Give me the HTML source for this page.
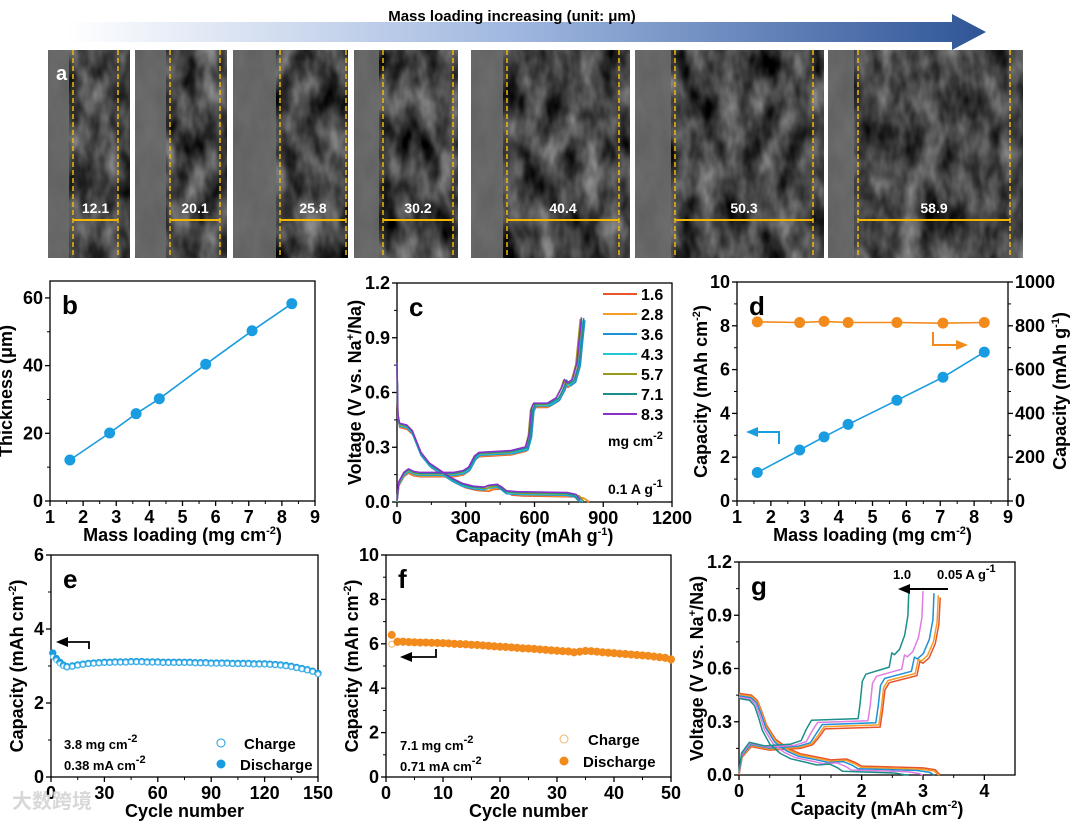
<!DOCTYPE html>
<html><head><meta charset="utf-8"><style>
html,body{margin:0;padding:0;background:#fff;}
svg{display:block;font-family:"Liberation Sans",Arial,sans-serif;font-weight:bold;}
</style></head><body>
<svg id="fig" width="1080" height="825" viewBox="0 0 1080 825" xmlns="http://www.w3.org/2000/svg">
<defs>
<linearGradient id="arrowGrad" x1="0" x2="1" y1="0" y2="0"><stop offset="0" stop-color="#ffffff"/><stop offset="0.5" stop-color="#9db5de"/><stop offset="1" stop-color="#2f5597"/></linearGradient>
<filter id="noise" x="0" y="0" width="100%" height="100%" color-interpolation-filters="sRGB">
<feTurbulence type="fractalNoise" baseFrequency="0.05 0.025" numOctaves="3" seed="7"/>
<feColorMatrix type="matrix" values="0.8 0 0 0 -0.13  0.8 0 0 0 -0.13  0.8 0 0 0 -0.13  0 0 0 0 1"/>
</filter>
</defs>
<g id="panelA">
<polygon points="66,22 952,22 952,14 986,32 952,50 952,42 66,42" fill="url(#arrowGrad)"/>
<text x="512" y="21" font-size="15" text-anchor="middle" fill="#000">Mass loading increasing (unit: μm)</text>
</g>
<g id="charts"></g>
</svg>
<script>
var NS="http://www.w3.org/2000/svg";
var svg=document.getElementById('fig');
var charts=document.getElementById('charts');
function el(tag,attrs,parent,txt){var e=document.createElementNS(NS,tag);for(var k in attrs)e.setAttribute(k,attrs[k]);if(txt!==undefined)e.textContent=txt;(parent||charts).appendChild(e);return e;}

// ---------- Panel a data ----------
var semLabels=["12.1","20.1","25.8","30.2","40.4","50.3","58.9"];
var semBoxes=[[48,130],[135,227],[233,348],[354,458],[471,630],[635,824],[828,1023]];
var semDash=[[73,118],[170,220],[280,346],[383,453],[507,619],[675,813],[858,1010]];
var pa=document.getElementById('panelA');
semBoxes.forEach(function(b,i){
  var r=el('rect',{x:b[0],y:50,width:b[1]-b[0],height:208,fill:'#444',filter:'url(#noise)'},pa);
  
  
  var cc=el('rect',{x:b[0],y:50,width:semDash[i][0]-b[0]-4,height:208,fill:'#6a6a6a',opacity:0.9},pa);
  
  
  var d=semDash[i];
  [d[0],d[1]].forEach(function(x){var l=el('line',{x1:x,y1:50,x2:x,y2:258,stroke:'#f2b705','stroke-width':1.5,'stroke-dasharray':'5,3'},pa);});
  var m=el('line',{x1:d[0],y1:220,x2:d[1],y2:220,stroke:'#f2b705','stroke-width':2},pa);
  
  
  var t=el('text',{x:(d[0]+d[1])/2,y:213,'font-size':14,'text-anchor':'middle',fill:'#fff'},pa,semLabels[i]);
  
  
});
var la=el('text',{x:56,y:80,'font-size':20,fill:'#fff'},pa,'a');



// ---------- chart helpers ----------
function scale(d0,d1,r0,r1){return function(v){return r0+(v-d0)/(d1-d0)*(r1-r0);};}
function axes(o){
  var g=el('g',{});
  
  
  var box=el('rect',{x:o.x0,y:o.y1,width:o.x1-o.x0,height:o.y0-o.y1,fill:'none',stroke:'#000','stroke-width':1.3},g);
  
  
  var sx=scale(o.xd[0],o.xd[1],o.x0,o.x1), sy=scale(o.yd[0],o.yd[1],o.y0,o.y1);
  o.xt.forEach(function(v,i){
    var x=sx(v);el('line',{x1:x,y1:o.y0,x2:x,y2:o.y0+5,stroke:'#000','stroke-width':1.3},g);
    var t=el('text',{x:x,y:o.y0+22,'font-size':18,'text-anchor':'middle'},g,o.xtl[i]);
    
    
    if(i<o.xt.length-1){var xm=sx((v+o.xt[i+1])/2);el('line',{x1:xm,y1:o.y0,x2:xm,y2:o.y0+3,stroke:'#000'},g);}
  });
  o.yt.forEach(function(v,i){
    var y=sy(v);el('line',{x1:o.x0,y1:y,x2:o.x0-5,y2:y,stroke:'#000','stroke-width':1.3},g);
    var t=el('text',{x:o.x0-7,y:y+6,'font-size':18,'text-anchor':'end'},g,o.ytl[i]);
    
    
    if(i<o.yt.length-1){var ym=sy((v+o.yt[i+1])/2);el('line',{x1:o.x0,y1:ym,x2:o.x0-3,y2:ym,stroke:'#000'},g);}
  });
  var xt=el('text',{x:(o.x0+o.x1)/2,y:o.y0+40,'font-size':18,'text-anchor':'middle'},g);
  xt.innerHTML=o.xtitle;
  
  
  var yx=o.x0-o.ytoff, yy=(o.y0+o.y1)/2;
  var yt=el('text',{x:yx,y:yy,'font-size':18,'text-anchor':'middle',transform:'rotate(-90 '+yx+' '+yy+')'},g);
  yt.innerHTML=o.ytitle;
  
  
  var pl=el('text',{x:o.x0+12,y:o.y1+33,'font-size':26},g,o.label);
  
  
  return {g:g,sx:sx,sy:sy};
}
function poly(ax,pts,color,w,name){
  var d=pts.map(function(p,i){return (i?'L':'M')+ax.sx(p[0]).toFixed(1)+','+ax.sy(p[1]).toFixed(1);}).join('');
  var p=el('path',{d:d,fill:'none',stroke:color,'stroke-width':w||1.6,'stroke-linejoin':'round'},ax.g);
  
  
  return p;
}
function dot(ax,x,y,color,r,hollow,name){
  var c=el('circle',{cx:ax.sx(x),cy:ax.sy(y),r:r,fill:hollow?'#fff':color,stroke:color,'stroke-width':1},ax.g);
  
  
  return c;
}
function txt(g,x,y,s,html,name,anchor){var t=el('text',{x:x,y:y,'font-size':s,'text-anchor':anchor||'start'},g);t.innerHTML=html;return t;}
var SUP=function(s){return '<tspan dy="-7" font-size="11">'+s+'</tspan><tspan dy="7">';};

// ---------- Panel b ----------
var bLoading=[1.6,2.8,3.6,4.3,5.7,7.1,8.3];
var bThickness=[12.1,20.1,25.8,30.2,40.4,50.3,58.3];
var bXTicks=[1,2,3,4,5,6,7,8,9];
var bYTicks=[0,20,40,60];
var axB=axes({name:'panel-b-chart',x0:50,x1:315,y0:501,y1:281,xd:[1,9],yd:[0,65],xt:bXTicks,xtl:bXTicks.map(String),yt:bYTicks,ytl:bYTicks.map(String),
  xtitle:'Mass loading (mg cm'+SUP('-2')+')</tspan>',ytitle:'Thickness (μm)',ytoff:38,label:'b'});
poly(axB,bLoading.map(function(v,i){return [v,bThickness[i]];}),'#1a9de0',1.6,'thickness-line');
bLoading.forEach(function(v,i){dot(axB,v,bThickness[i],'#1a9de0',5,false,'thickness-point');});

// ---------- Panel c ----------
var cLoadings=["1.6","2.8","3.6","4.3","5.7","7.1","8.3"];
var cColors=["#e8532b","#f39c26","#1e90d6","#22c7d6","#9a9a1e","#1b8f8a","#8a2fc9"];
var cChargeEnd=[808,815,820,812,800,815,805];
var cDischargeEnd=[840,835,800,810,815,790,800];
var cChargeShape=[[0,0],[8,0.1],[30,0.15],[50,0.17],[75,0.155],[100,0.15],[250,0.15],[290,0.16],[315,0.18],[340,0.24],[360,0.26],[500,0.27],[565,0.29],[580,0.36],[590,0.5],[600,0.53],[660,0.53],[700,0.56],[725,0.62],[735,0.66],[748,0.64],[770,0.66],[790,0.75],[800,0.88],[810,1.0]];
var cDischargeShape=[[0,0.75],[4,0.47],[12,0.42],[45,0.41],[70,0.38],[90,0.32],[110,0.26],[150,0.2],[200,0.16],[250,0.12],[300,0.09],[350,0.075],[400,0.07],[420,0.08],[460,0.085],[480,0.07],[500,0.05],[550,0.045],[780,0.04],[820,0.03],[840,0]];
var cXTicks=[0,300,600,900,1200];
var cYTicks=[0,0.3,0.6,0.9,1.2];
var axC=axes({name:'panel-c-chart',x0:397,x1:672,y0:502,y1:283,xd:[0,1200],yd:[0,1.2],xt:cXTicks,xtl:cXTicks.map(String),yt:cYTicks,ytl:cYTicks.map(function(v){return v.toFixed(1);}),
  xtitle:'Capacity (mAh g'+SUP('-1')+')</tspan>',ytitle:'Voltage (V vs. Na'+SUP('+')+'/Na)</tspan>',ytoff:36,label:'c'});
cLoadings.forEach(function(l,i){
  var jit=(i-3)*0.004;
  poly(axC,cChargeShape.map(function(p){return [p[0]*cChargeEnd[i]/810,Math.max(0,p[1]+jit)];}),cColors[i],1.5,'charge-curve-'+l);
  poly(axC,cDischargeShape.map(function(p){return [p[0]*cDischargeEnd[i]/840,Math.max(0,p[1]+jit)];}),cColors[i],1.5,'discharge-curve-'+l);
  var ly=294+i*20;
  var ll=el('line',{x1:603,y1:ly,x2:637,y2:ly,stroke:cColors[i],'stroke-width':2},axC.g);
  
  
  txt(axC.g,641,ly+6,16,l,'legend-entry');
});
txt(axC.g,608,446,14,'mg cm'+SUP('-2')+'</tspan>','legend-unit');
txt(axC.g,608,494,14,'0.1 A g'+SUP('-1')+'</tspan>','current-density-note');

// ---------- Panel d ----------
var dLoading=[1.6,2.85,3.57,4.28,5.72,7.08,8.3];
var dArealCap=[1.3,2.33,2.93,3.5,4.6,5.65,6.8];
var dSpecCap=[818,815,820,815,815,812,815];
var dXTicks=[1,2,3,4,5,6,7,8,9];
var dYTicks=[0,2,4,6,8,10];
var dY2Ticks=[0,200,400,600,800,1000];
var axD=axes({name:'panel-d-chart',x0:737,x1:1008,y0:501,y1:282,xd:[1,9],yd:[0,10],xt:dXTicks,xtl:dXTicks.map(String),yt:dYTicks,ytl:dYTicks.map(String),
  xtitle:'Mass loading (mg cm'+SUP('-2')+')</tspan>',ytitle:'Capacity (mAh cm'+SUP('-2')+')</tspan>',ytoff:30,label:'d'});
var sy2=scale(0,1000,501,282);
dY2Ticks.forEach(function(v,i){var y=sy2(v);el('line',{x1:1008,y1:y,x2:1013,y2:y,stroke:'#000','stroke-width':1.3},axD.g);
  if(i<dY2Ticks.length-1){var ym=sy2(v+100);el('line',{x1:1008,y1:ym,x2:1011,y2:ym,stroke:'#000'},axD.g);}
  txt(axD.g,1015,y+6,18,String(v),'y2-tick-label');});
var y2t=txt(axD.g,0,0,18,'Capacity (mAh g'+SUP('-1')+')</tspan>','y2-axis-title','middle');
y2t.setAttribute('transform','translate(1066,391) rotate(-90)');
poly(axD,dLoading.map(function(v,i){return [v,dArealCap[i]];}),'#1a9de0',1.6,'areal-capacity-line');
dLoading.forEach(function(v,i){dot(axD,v,dArealCap[i],'#1a9de0',5,false,'areal-capacity-point');});
var specPts=dLoading.map(function(v,i){return [v,dSpecCap[i]/100];});
poly(axD,specPts,'#f28a1c',1.6,'specific-capacity-line');
specPts.forEach(function(p){dot(axD,p[0],p[1],'#f28a1c',5,false,'specific-capacity-point');});
el('path',{d:'M779,444 L779,432 L752,432',fill:'none',stroke:'#1a9de0','stroke-width':2},axD.g);
el('polygon',{points:'746,432 758,427 758,437',fill:'#1a9de0'},axD.g);
el('path',{d:'M933,332 L933,345 L962,345',fill:'none',stroke:'#f28a1c','stroke-width':2},axD.g);
el('polygon',{points:'968,345 956,340 956,350',fill:'#f28a1c'},axD.g);

// ---------- Panel e ----------
var eCycles=[1,3,5,7,9,12,15,18,21,24,27,30,33,36,39,42,45,48,51,54,57,60,63,66,69,72,75,78,81,84,87,90,93,96,99,102,105,108,111,114,117,120,123,126,129,132,135,138,141,144,147,150];
var eDischarge=[3.35,3.2,3.1,3.02,2.98,3.0,3.03,3.05,3.07,3.08,3.09,3.1,3.1,3.11,3.11,3.11,3.12,3.12,3.12,3.11,3.11,3.11,3.1,3.1,3.1,3.1,3.1,3.1,3.09,3.09,3.09,3.08,3.08,3.08,3.08,3.07,3.07,3.07,3.07,3.06,3.06,3.06,3.05,3.04,3.03,3.01,2.99,2.96,2.93,2.9,2.86,2.8];
var eCharge=[3.25,3.15,3.06,3.0,2.97,2.99,3.02,3.04,3.06,3.07,3.08,3.09,3.09,3.1,3.1,3.1,3.11,3.11,3.11,3.1,3.1,3.1,3.09,3.09,3.09,3.09,3.09,3.09,3.08,3.08,3.08,3.07,3.07,3.07,3.07,3.06,3.06,3.06,3.06,3.05,3.05,3.05,3.04,3.03,3.02,3.0,2.98,2.95,2.92,2.89,2.85,2.78];
var eXTicks=[0,30,60,90,120,150];
var eYTicks=[0,2,4,6];
var axE=axes({name:'panel-e-chart',x0:51,x1:318,y0:777,y1:555,xd:[0,150],yd:[0,6],xt:eXTicks,xtl:eXTicks.map(String),yt:eYTicks,ytl:eYTicks.map(String),
  xtitle:'Cycle number',ytitle:'Capacity (mAh cm'+SUP('-2')+')</tspan>',ytoff:28,label:'e'});
eCycles.forEach(function(c,i){dot(axE,c,eDischarge[i],'#1a9de0',3.2,false,'discharge-point');dot(axE,c,eCharge[i],'#6cc4f0',2.3,true,'charge-point');});
el('path',{d:'M89,649 L89,642 L64,642',fill:'none',stroke:'#000','stroke-width':1.8},axE.g);
el('polygon',{points:'56,642 68,637 68,647',fill:'#000'},axE.g);
txt(axE.g,64,749,13,'3.8 mg cm'+SUP('-2')+'</tspan>','loading-note');
txt(axE.g,64,770,13,'0.38 mA cm'+SUP('-2')+'</tspan>','current-note');
el('circle',{cx:221,cy:743,r:4,fill:'#fff',stroke:'#1a9de0'},axE.g);
el('circle',{cx:221,cy:764,r:4,fill:'#1a9de0',stroke:'#1a9de0'},axE.g);
txt(axE.g,244,749,15,'Charge','legend-charge');
txt(axE.g,240,770,15,'Discharge','legend-discharge');

// ---------- Panel f ----------
var fCycles=[];for(var k=1;k<=50;k++)fCycles.push(k);
var fDischarge=[6.4,6.1,6.1,6.08,6.07,6.06,6.06,6.05,6.04,6.03,6.02,6.0,5.99,5.98,5.96,5.95,5.93,5.91,5.89,5.87,5.86,5.84,5.82,5.8,5.79,5.77,5.75,5.73,5.71,5.69,5.67,5.66,5.62,5.65,5.68,5.67,5.65,5.62,5.6,5.58,5.56,5.54,5.52,5.5,5.48,5.46,5.43,5.4,5.37,5.3];
var fCharge=[5.98,6.05,6.06,6.05,6.04,6.03,6.03,6.02,6.01,6.0,5.99,5.97,5.96,5.95,5.93,5.92,5.9,5.88,5.86,5.84,5.83,5.81,5.79,5.77,5.76,5.74,5.72,5.7,5.68,5.66,5.64,5.63,5.59,5.62,5.65,5.64,5.62,5.59,5.57,5.55,5.53,5.51,5.49,5.47,5.45,5.43,5.4,5.37,5.34,5.27];
var fXTicks=[0,10,20,30,40,50];
var fYTicks=[0,2,4,6,8,10];
var axF=axes({name:'panel-f-chart',x0:386,x1:671,y0:777,y1:555,xd:[0,50],yd:[0,10],xt:fXTicks,xtl:fXTicks.map(String),yt:fYTicks,ytl:fYTicks.map(String),
  xtitle:'Cycle number',ytitle:'Capacity (mAh cm'+SUP('-2')+')</tspan>',ytoff:28,label:'f'});
fCycles.forEach(function(c,i){dot(axF,c,fCharge[i],'#f7b26a',3,true,'charge-point');dot(axF,c,fDischarge[i],'#f28a1c',3.5,false,'discharge-point');});
el('path',{d:'M436,649 L436,657 L408,657',fill:'none',stroke:'#000','stroke-width':1.8},axF.g);
el('polygon',{points:'400,657 412,652 412,662',fill:'#000'},axF.g);
txt(axF.g,400,750,13,'7.1 mg cm'+SUP('-2')+'</tspan>','loading-note');
txt(axF.g,400,771,13,'0.71 mA cm'+SUP('-2')+'</tspan>','current-note');
el('circle',{cx:564,cy:739,r:4,fill:'#fff',stroke:'#f7b26a'},axF.g);
el('circle',{cx:564,cy:761,r:4,fill:'#f28a1c',stroke:'#f28a1c'},axF.g);
txt(axF.g,588,745,15,'Charge','legend-charge');
txt(axF.g,583,767,15,'Discharge','legend-discharge');

// ---------- Panel g ----------
var gRates=["0.05","0.1","0.2","0.5","1.0"];
var gColors=["#e8532b","#f39c26","#1e90d6","#e07de0","#1b8f8a"];
var gChargeEnd=[3.28,3.25,3.18,3.0,2.77];
var gDischargeEnd=[3.28,3.26,3.18,3.0,2.77];
var gChargeShape=[[0,0],[0.05,0.1],[0.2,0.16],[0.35,0.15],[0.5,0.14],[1.0,0.15],[1.2,0.17],[1.3,0.21],[1.4,0.26],[2.3,0.27],[2.34,0.36],[2.38,0.48],[2.45,0.52],[2.9,0.56],[2.95,0.64],[3.0,0.63],[3.1,0.66],[3.2,0.74],[3.26,0.85],[3.28,1.0]];
var gDischargeShape=[[0,0.46],[0.2,0.45],[0.3,0.42],[0.38,0.35],[0.45,0.28],[0.6,0.2],[0.8,0.15],[1.0,0.12],[1.3,0.1],[1.5,0.085],[1.75,0.09],[1.9,0.07],[2.0,0.05],[3.0,0.04],[3.2,0.03],[3.28,0]];
var gXTicks=[0,1,2,3,4];
var gYTicks=[0,0.3,0.6,0.9,1.2];
var axG=axes({name:'panel-g-chart',x0:739,x1:1015,y0:775,y1:562,xd:[0,4.5],yd:[0,1.2],xt:gXTicks,xtl:gXTicks.map(String),yt:gYTicks,ytl:gYTicks.map(function(v){return v.toFixed(1);}),
  xtitle:'Capacity (mAh cm'+SUP('-2')+')</tspan>',ytitle:'Voltage (V vs. Na'+SUP('+')+'/Na)</tspan>',ytoff:36,label:'g'});
gRates.forEach(function(r,i){
  var f=gChargeEnd[i]/3.28, lift=i*0.012;
  poly(axG,gChargeShape.map(function(p){return [p[0]*f,p[1]>0.2?p[1]+lift:p[1]+lift*0.5];}),gColors[i],1.5,'charge-curve-'+r);
  var fd=gDischargeEnd[i]/3.28;
  poly(axG,gDischargeShape.map(function(p){return [p[0]*fd,Math.max(0,p[1]-lift*0.6)];}),gColors[i],1.5,'discharge-curve-'+r);
});
el('line',{x1:948,y1:589,x2:906,y2:589,stroke:'#000','stroke-width':2},axG.g);
el('polygon',{points:'898,589 910,584 910,594',fill:'#000'},axG.g);
txt(axG.g,893,579,13,'1.0','rate-label-high');
txt(axG.g,937,579,13,'0.05 A g'+SUP('-1')+'</tspan>','rate-label-low');

// watermark
var wm=el('text',{x:12,y:808,'font-size':20,fill:'#d8d8d8','font-family':'"Liberation Sans","Noto Sans CJK SC",sans-serif'},svg,'大数跨境');


</script>
</body></html>
